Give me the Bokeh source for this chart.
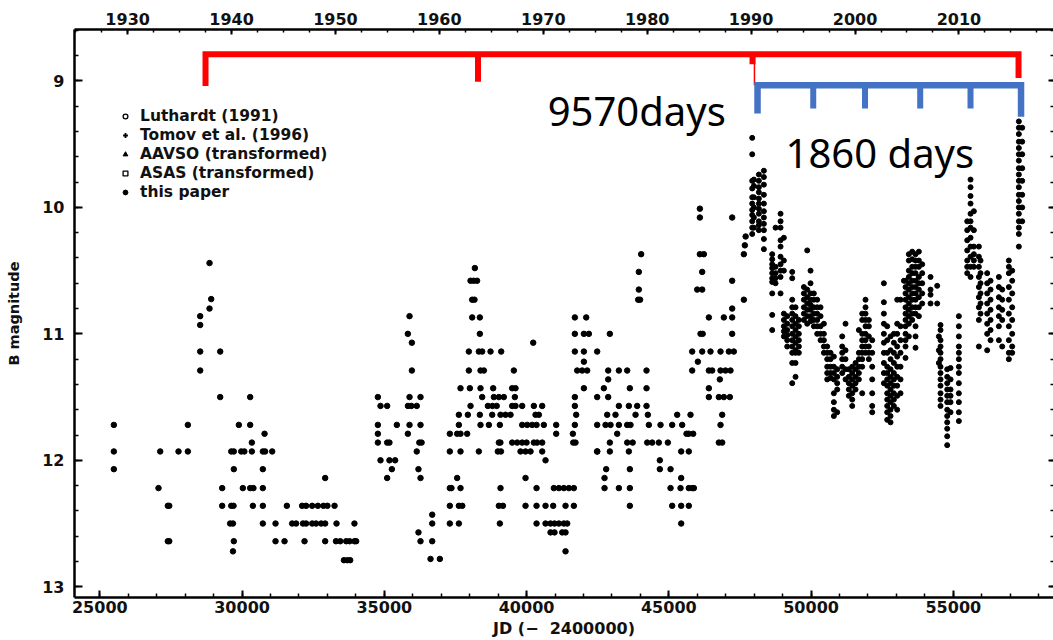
from bokeh.plotting import figure
from bokeh.models import (Range1d, LinearAxis, FixedTicker, Legend, LegendItem,
                          Label, CustomJSTickFormatter)
from bokeh.embed import file_html
from bokeh.resources import INLINE

# ---------------- data (JD - 2400000, B magnitude) ----------------
luthardt = [
    (25493, 11.72), (25493, 11.93), (25493, 12.07),
    (27063, 12.22), (27122, 11.93), (27390, 12.36), (27440, 12.36), (27390, 12.64), (27440, 12.64),
    (27766, 11.93), (28094, 11.72), (28094, 11.93),
    (28528, 10.86), (28528, 10.93), (28528, 11.14), (28528, 11.29),
    (28856, 10.44), (28856, 10.80), (28915, 10.725),
    (29231, 11.14), (29231, 11.50), (29301, 12.22), (29301, 12.36),
    (29620, 11.93), (29710, 11.93), (29710, 12.07), (29620, 12.36), (29700, 12.36), (29580, 12.50),
    (29680, 12.50), (29710, 12.64), (29680, 12.72),
    (29887, 11.72), (29970, 11.93), (30080, 11.93), (30027, 12.22),
    (30285, 11.50), (30285, 11.72), (30344, 11.86), (30344, 11.93), (30285, 12.22), (30400, 12.22), (30380, 12.36),
    (30790, 11.79), (30730, 11.93), (30810, 11.93), (30730, 12.07), (30730, 12.22), (30730, 12.36), (30730, 12.50),
    (31059, 11.93), (31176, 12.50), (31176, 12.64), (31492, 12.64), (31574, 12.36),
    (31760, 12.50), (31900, 12.50), (32110, 12.36), (32250, 12.36), (32140, 12.50), (32250, 12.50), (32195, 12.64),
    (32464, 12.36), (32464, 12.50), (32664, 12.36), (32600, 12.50), (32780, 12.50),
    (32921, 12.14), (32860, 12.36), (33000, 12.36), (32921, 12.50), (32921, 12.64),
    (33250, 12.36), (33320, 12.50), (33300, 12.64), (33450, 12.64),
    (33660, 12.64), (33780, 12.64), (33580, 12.79), (33700, 12.79), (33800, 12.79),
    (33950, 12.50), (33950, 12.64), (34010, 12.64),
    (34773, 11.50), (34773, 11.72), (34773, 11.79), (34773, 11.86), (34866, 11.57), (34866, 12.00),
    (35100, 11.57), (35100, 11.86), (35180, 11.86), (35100, 12.14), (35180, 12.00), (35380, 12.00), (35265, 12.07),
    (35440, 11.72), (35827, 11.00), (35827, 11.79),
    (35886, 10.86), (35886, 11.50), (35830, 11.57), (35950, 11.57), (35886, 11.72),
    (35968, 11.07), (35968, 11.29), (36140, 11.57), (36140, 11.93), (36200, 12.07), (36200, 12.57),
    (36272, 11.50), (36272, 11.72), (36230, 11.86), (36310, 11.86), (36272, 12.14), (36272, 12.64),
    (36683, 12.43), (36683, 12.50), (36683, 12.64), (36624, 12.78), (36952, 12.78),
    (37303, 11.79), (37560, 11.79), (37678, 11.79), (37912, 11.79), (37303, 11.93), (37678, 11.93),
    (37303, 12.22), (37360, 12.22), (37678, 12.22), (37303, 12.36), (37620, 12.36), (37740, 12.36),
    (37303, 12.50), (37620, 12.50), (37560, 12.14), (37620, 11.64), (37620, 11.72),
    (37678, 11.43), (38007, 11.43), (37936, 11.64), (37971, 11.29), (37971, 11.14), (38030, 11.57),
    (38088, 10.87), (38358, 10.87), (38088, 10.73), (38170, 10.73), (38030, 10.58), (38140, 10.58),
    (38260, 10.58), (38182, 10.48),
    (38358, 11.00), (38322, 11.14), (38440, 11.14), (38381, 11.29), (38500, 11.29),
    (38381, 11.43), (38440, 11.50), (38358, 11.64), (38381, 11.72), (38675, 11.72), (38322, 11.93),
    (38733, 11.14), (38827, 11.43), (38850, 11.50), (39026, 11.50), (39200, 11.50),
    (38640, 11.57), (38800, 11.57), (38950, 11.57),
    (38792, 11.64), (39084, 11.64), (39260, 11.64), (39436, 11.64),
    (39026, 11.86), (39080, 11.86), (38990, 11.93), (39100, 11.93), (39061, 11.72),
    (39084, 12.22), (39026, 12.36), (39170, 12.36), (39061, 12.50), (39108, 11.14),
    (39553, 11.29), (39494, 11.43), (39611, 11.43), (39588, 11.50),
    (39494, 11.57), (39611, 11.57), (39846, 11.57), (39846, 11.72), (40022, 11.72),
    (39494, 11.86), (39670, 11.86), (39846, 11.86), (40000, 11.86),
    (39787, 11.93), (39963, 11.93), (40139, 11.93), (39963, 12.14), (40233, 11.07),
    (40256, 11.57), (40549, 11.57), (40315, 11.64), (40432, 11.64),
    (40197, 11.72), (40350, 11.72), (40607, 11.72),
    (40256, 11.86), (40370, 11.86), (40549, 11.86), (40549, 11.93), (40666, 12.00),
    (39963, 12.36), (40350, 12.36), (40666, 12.36), (40935, 12.36), (41369, 12.36), (41662, 12.36),
    (40350, 12.22), (40959, 12.22), (41135, 12.22), (41310, 12.22), (41486, 12.22), (41662, 12.22),
    (40350, 12.50), (40666, 12.50), (40842, 12.50), (40982, 12.50), (41135, 12.50), (41310, 12.50), (41428, 12.50),
    (40842, 12.57), (40982, 12.57), (41252, 12.57), (41369, 12.57), (41369, 12.72),
    (41041, 11.72), (41041, 11.79),
    (41697, 10.87), (42096, 10.87), (41697, 11.00), (42015, 11.00), (42190, 11.00),
    (41697, 11.14), (42015, 11.14), (42482, 11.14), (42015, 11.22),
    (41779, 11.29), (41955, 11.29), (42130, 11.29),
    (42015, 11.43), (41697, 11.50), (41697, 11.57), (41744, 11.64), (41697, 11.72), (41627, 11.79),
    (41640, 11.86), (41720, 11.86), (42482, 11.72), (42482, 11.93),
    (42869, 11.29), (42869, 11.36), (42716, 11.43), (42482, 11.50), (42869, 11.50),
    (42834, 11.64), (43126, 11.64),
    (42775, 11.72), (42951, 11.72), (43244, 11.72), (43537, 11.72), (43654, 11.72),
    (42927, 11.86), (42482, 11.93), (42927, 11.93), (42798, 12.07), (42740, 12.14),
    (42740, 12.22), (43244, 12.22), (43630, 12.22), (42927, 11.00),
    (43244, 11.29), (43537, 11.29), (43244, 11.57), (43595, 11.57), (43888, 11.57),
    (43185, 11.79), (43537, 11.86), (43730, 11.86), (43595, 11.93), (43630, 12.07), (43630, 12.36),
    (44028, 10.37), (43946, 10.51), (43946, 10.65), (43923, 10.73), (43990, 10.73),
    (43830, 11.64), (44263, 11.64), (43630, 11.43), (44216, 11.43), (44216, 11.29), (44216, 11.57),
    (44298, 11.72), (44708, 11.72), (45118, 11.72), (45470, 11.72),
    (44240, 11.86), (44415, 11.86), (44649, 11.86), (44966, 11.86),
    (44684, 12.00), (44684, 12.07), (45060, 12.07),
    (45060, 12.22), (45411, 12.22), (45703, 12.22), (45820, 12.22), (45880, 12.22),
    (45118, 12.36), (45434, 12.36), (45703, 12.36),
    (45434, 12.50), (45434, 12.14), (45434, 11.93), (45703, 11.93),
    (45622, 11.79), (45700, 11.79), (45856, 11.79), (45294, 11.64), (45762, 11.64),
    (45821, 11.14), (46173, 11.14), (46465, 11.14), (46817, 11.14), (47110, 11.14), (47285, 11.14),
    (46020, 11.22),
    (45821, 11.29), (46407, 11.29), (46524, 11.29), (46817, 11.29), (46992, 11.29), (47168, 11.29),
    (46793, 11.36), (46407, 11.43),
    (46407, 11.50), (46758, 11.50), (46934, 11.50), (47145, 11.50),
    (46876, 11.64), (46817, 11.72), (46758, 11.86), (46876, 11.86),
    (46091, 10.01), (46091, 10.08), (46091, 10.37), (46231, 10.37), (46173, 10.51),
    (45997, 10.65), (46173, 10.65), (46114, 11.00), (46190, 11.00),
    (46407, 10.87), (46934, 10.87), (47227, 10.87),
    (47227, 10.08), (47227, 10.58), (47227, 10.80), (47227, 11.00),
    (47637, 10.37), (47672, 10.30), (47700, 10.23), (47637, 10.73),
]

tomov_cols = [
    (47931, [9.45, 9.58, 9.79, 9.85, 9.92, 9.97, 10.02, 10.06, 10.11, 10.16, 10.21]),
    (47990, [9.78, 9.83, 9.92, 10.00, 10.08, 10.16]),
    (48165, [9.74, 9.79, 9.84, 9.88, 9.93, 9.97, 10.01, 10.05, 10.11, 10.14, 10.18]),
    (48341, [9.71, 9.76, 9.82, 9.90, 9.97, 10.03, 10.08, 10.13, 10.18, 10.25, 10.33]),
]

aavso_cols = [
    (48634, [10.37, 10.41, 10.45, 10.48, 10.52, 10.56, 10.59, 10.68, 10.85, 10.97]),
    (48751, [10.16, 10.47, 10.52, 10.56, 10.60]),
    (48927, [10.05, 10.11, 10.16, 10.26, 10.31, 10.39, 10.45, 10.50, 10.55, 10.68]),
    (49044, [10.24, 10.42, 10.50, 10.84, 10.89, 10.94, 10.98, 11.02]),
    (49161, [10.86, 10.92, 10.97, 11.01, 11.05, 11.10]),
    (49337, [10.51, 10.56, 10.73, 10.79, 10.84, 10.89, 10.94, 11.00, 11.05, 11.10, 11.15, 11.23, 11.39]),
    (49454, [10.79, 10.86, 10.92, 10.97, 11.02, 11.07, 11.13, 11.15, 11.23, 11.34]),
    (49571, [10.89, 10.94, 11.00, 11.05, 11.10, 11.15]),
    (49747, [10.63, 10.68, 10.73, 10.79, 10.84, 10.89]),
    (49864, [10.34, 10.65, 10.71, 10.76, 10.81, 10.86, 10.92]),
    (49981, [10.50, 10.60, 10.68, 10.73, 10.77, 10.81, 10.86, 10.90]),
    (50098, [10.68, 10.73, 10.79, 10.84, 10.89, 10.94]),
    (50215, [10.73, 10.79, 10.84, 10.89, 10.94, 11.00]),
    (50333, [10.79, 10.86, 10.94, 11.00, 11.05]),
    (50450, [10.92, 11.00, 11.05, 11.10, 11.15]),
    (50567, [11.10, 11.15, 11.20, 11.26, 11.31, 11.36]),
    (50684, [11.15, 11.20, 11.26, 11.31, 11.35]),
    (50801, [11.18, 11.26, 11.31, 11.36, 11.47, 11.54, 11.60, 11.65]),
    (50918, [11.28, 11.34, 11.39, 11.44, 11.62]),
    (51094, [11.02, 11.10, 11.15, 11.20, 11.26, 11.31]),
    (51211, [10.92, 11.13, 11.20, 11.28, 11.36]),
    (51328, [11.28, 11.34, 11.39, 11.44, 11.49]),
    (51446, [11.26, 11.31, 11.36, 11.41, 11.47, 11.52, 11.57]),
    (51563, [11.23, 11.28, 11.34, 11.39, 11.44]),
    (51680, [10.97, 11.15, 11.20, 11.26, 11.31, 11.36]),
    (51797, [10.84, 10.89, 11.00, 11.05, 11.10, 11.15, 11.20, 11.26, 11.47]),
    (51914, [10.73, 10.79, 10.84, 10.89, 10.94, 11.00, 11.05, 11.10, 11.15]),
    (55195, [10.86, 10.94, 11.02, 11.10, 11.15, 11.20, 11.26, 11.31, 11.39, 11.47, 11.54, 11.62, 11.69]),
    (55488, [10.11, 10.18, 10.26, 10.34, 10.42, 10.47, 10.52]),
    (55605, [9.78, 9.84, 9.91, 9.97, 10.05, 10.11, 10.16, 10.24, 10.31, 10.39, 10.47, 10.55]),
    (55722, [10.03, 10.18, 10.31, 10.37, 10.42, 10.47]),
    (55898, [10.31, 10.39, 10.47, 10.55, 10.63, 10.71, 10.79, 10.89, 11.10]),
    (55956, [10.42, 10.52, 10.60, 10.68, 10.76, 10.84]),
    (56190, [10.52, 10.60, 10.68, 10.76, 10.84, 10.92, 11.00, 11.13]),
    (56308, [10.58, 10.65, 10.73, 10.81, 10.89, 10.97, 11.05]),
    (56601, [10.55, 10.63, 10.71, 10.79, 10.86, 10.94, 11.05]),
    (56718, [10.65, 10.73, 10.81, 10.89, 11.10]),
    (56952, [10.42, 10.47, 10.52, 10.63, 10.73, 10.84, 10.94, 11.05, 11.15, 11.20]),
    (57069, [10.50, 10.58, 10.68, 10.79, 10.89, 11.00, 11.10, 11.15]),
]

asas_cols = [
    (52031, [10.89, 10.94, 11.02, 11.10, 11.15, 11.20]),
    (52149, [11.05, 11.15, 11.26, 11.36, 11.47, 11.57, 11.62]),
    (52559, [10.60, 10.75, 10.84, 10.92, 11.00, 11.07, 11.15, 11.23, 11.31, 11.39]),
    (52676, [10.94, 11.05, 11.15, 11.26, 11.31, 11.36, 11.41, 11.47, 11.52, 11.57, 11.62, 11.68]),
    (52793, [11.02, 11.13, 11.20, 11.28, 11.34, 11.39, 11.44, 11.49, 11.54, 11.60, 11.65, 11.70]),
    (52910, [11.00, 11.07, 11.15, 11.23, 11.31, 11.36, 11.41, 11.47, 11.52, 11.57]),
    (53027, [10.73, 10.92, 11.00, 11.10, 11.18, 11.26, 11.34, 11.41, 11.49, 11.60]),
    (53144, [10.73, 10.94, 11.05, 11.15, 11.26, 11.36, 11.47]),
    (53262, [10.58]),
    (53320, [10.58, 10.63, 10.68, 10.73, 10.79, 10.84, 10.89, 10.94, 11.00, 11.05, 11.10, 11.19]),
    (53437, [10.37, 10.42, 10.50, 10.55, 10.60, 10.65, 10.71, 10.76, 10.81, 10.86, 10.92, 11.02]),
    (53555, [10.35, 10.41, 10.47, 10.52, 10.58, 10.63, 10.68, 10.73, 10.79, 10.84, 10.89]),
    (53672, [10.37, 10.42, 10.47, 10.52, 10.58, 10.63, 10.68, 10.73, 10.79, 10.84, 10.94, 11.02, 11.11]),
    (53789, [10.35, 10.42, 10.47, 10.55, 10.60, 10.65, 10.71, 10.79, 10.86]),
    (53906, [10.45, 10.52, 10.60, 10.68, 10.76]),
    (54199, [10.55, 10.65, 10.69, 10.76]),
    (54433, [10.62, 10.76]),
    (54492, [11.02, 11.13, 11.23]),
    (54550, [10.93, 10.97, 11.05, 11.10, 11.15, 11.20, 11.26, 11.31, 11.36, 11.41, 11.47, 11.52, 11.57]),
    (54785, [11.28, 11.34, 11.39, 11.44, 11.49, 11.54, 11.60, 11.65, 11.70, 11.75, 11.81, 11.88]),
    (54902, [11.27, 11.36, 11.44, 11.49, 11.54, 11.62]),
]

paper_cols = [
    (57303, [9.32, 9.37, 9.42, 9.48, 9.53, 9.58, 9.63, 9.69, 9.74, 9.79, 9.84, 9.90, 9.95,
             10.00, 10.05, 10.11, 10.16, 10.21, 10.31]),
    (57421, [9.37, 9.48, 9.58, 9.69, 9.79, 9.90, 10.00, 10.11]),
]

series_labels = ["Luthardt (1991)", "Tomov et al. (1996)", "AAVSO (transformed)",
                 "ASAS (transformed)", "this paper"]

jd_major = [25000, 30000, 35000, 40000, 45000, 50000, 55000]
year_major = [1930, 1940, 1950, 1960, 1970, 1980, 1990, 2000, 2010]
mag_major = [9, 10, 11, 12, 13]

# hand-drawn period brackets (JD of ticks)
red_bracket_jd = [28715, 38293, 47942, 57292]
blue_bracket_jd = [48118, 50076, 51896, 53836, 55604, 57380]
red_label = "9570days"
blue_label = "1860 days"

# ---------------- helpers ----------------
def flatten(cols):
    xs, ys = [], []
    for jd, mags in cols:
        for m in mags:
            xs.append(jd)
            ys.append(m)
    return xs, ys


def jd_to_year(jd):
    return 1930 + (jd - 25977.5) / 365.25


X0, X1 = 24110, 58521
Y_BOT, Y_TOP = 13.085, 8.593

p = figure(width=1053, height=640, x_range=Range1d(X0, X1), y_range=Range1d(Y_BOT, Y_TOP),
           output_backend="svg", toolbar_location=None,
           min_border_left=74, min_border_right=0, min_border_top=29, min_border_bottom=41,
           x_axis_label="JD (\u2212\u00a0\u00a02400000)", y_axis_label="B magnitude")
p.grid.visible = False
p.outline_line_color = None
p.background_fill_color = "white"
p.border_fill_color = "white"

FONT = "DejaVu Sans"


def style_axis(ax, major, minor, tick_in, minor_in, standoff):
    ax.ticker = FixedTicker(ticks=major, minor_ticks=minor)
    ax.axis_line_width = 2.5
    ax.axis_line_color = "black"
    ax.major_tick_in = tick_in
    ax.major_tick_out = 0
    ax.minor_tick_in = minor_in
    ax.minor_tick_out = 0
    ax.major_tick_line_width = 2
    ax.minor_tick_line_width = 1.5
    ax.major_tick_line_color = "black"
    ax.minor_tick_line_color = "black"
    ax.major_label_text_font = FONT
    ax.major_label_text_font_style = "bold"
    ax.major_label_text_font_size = "16px"
    ax.major_label_text_color = "#111111"
    ax.major_label_standoff = standoff
    ax.axis_label_text_font = FONT
    ax.axis_label_text_font_style = "bold"
    ax.axis_label_text_color = "#111111"


jd_minor = list(range(24000, 59001, 1000))
mag_minor = [round(8.6 + 0.2 * i, 1) for i in range(23)]
year_minor = [1925 + 2.5 * i for i in range(40)]

xb = p.xaxis[0]
style_axis(xb, jd_major, jd_minor, 7, 4, 3)
xb.axis_label_text_font_size = "16px"
xb.axis_label_standoff = 3

yl = p.yaxis[0]
style_axis(yl, mag_major, mag_minor, 8, 4, 10)
yl.axis_label_text_font_size = "14.5px"
yl.axis_label_standoff = 17

p.extra_x_ranges = {"yr": Range1d(jd_to_year(X0), jd_to_year(X1))}
top = LinearAxis(x_range_name="yr")
style_axis(top, year_major, year_minor, 5, 3, 5)
p.add_layout(top, "above")

right = LinearAxis()
style_axis(right, mag_major, mag_minor, 5, 3, 0)
right.formatter = CustomJSTickFormatter(code="return ''")
right.axis_line_color = None
p.add_layout(right, "right")

# ---------------- data points ----------------
lx = [a for a, b in luthardt]
ly = [b for a, b in luthardt]
p.scatter(lx, ly, size=5.5, marker="circle", fill_color="black", line_color="black")
for cols in (tomov_cols, aavso_cols, asas_cols, paper_cols):
    xs, ys = flatten(cols)
    p.scatter(xs, ys, size=5, marker="circle", fill_color="black", line_color="black")

# legend-only renderers (symbols of the original legend); NaN data so nothing is plotted
NAN = float("nan")
leg_styles = [
    dict(marker="circle", fill_color="white", line_color="black", line_width=1.3),
    dict(marker="cross", line_color="black", line_width=1.8),
    dict(marker="triangle", fill_color="black", line_color="black"),
    dict(marker="square", fill_color="white", line_color="black", line_width=1.3),
    dict(marker="circle", fill_color="black", line_color="black"),
]
items = []
for lab, st in zip(series_labels, leg_styles):
    r = p.scatter(x=[NAN], y=[NAN], size=5, **st)
    items.append(LegendItem(label=lab, renderers=[r], index=0))
legend = Legend(items=items, location=(45, 396), padding=0, margin=0, spacing=0,
                label_height=19, glyph_height=12, glyph_width=12, label_standoff=9,
                border_line_color=None, background_fill_alpha=0,
                label_text_font=FONT, label_text_font_style="bold",
                label_text_font_size="15.5px", label_text_color="#111111")
p.add_layout(legend, "center")

# ---------------- period brackets ----------------
RED = "#FF0000"
BLUE = "#4472C4"
RED_Y = 8.788
BLUE_Y = 9.034
r0, r1, r2, r3 = red_bracket_jd
p.line([r0, r0, r3, r3], [9.039, RED_Y, RED_Y, 8.976], line_color=RED, line_width=6,
       line_join="miter")
p.segment(x0=[r1, r2], y0=[RED_Y, RED_Y], x1=[r1, r2], y1=[9.007, 8.868],
          line_color=RED, line_width=6)
p.segment(x0=[48010], y0=[RED_Y], x1=[48010], y1=[BLUE_Y], line_color=RED, line_width=1.5)

b = blue_bracket_jd
p.line([b[0], b[0], b[-1], b[-1]], [9.257, BLUE_Y, BLUE_Y, 9.284], line_color=BLUE,
       line_width=6.5, line_join="miter")
p.segment(x0=b[1:-1], y0=[BLUE_Y] * 4, x1=b[1:-1], y1=[9.217] * 4,
          line_color=BLUE, line_width=6)

p.add_layout(Label(x=40743, y=9.230, text=red_label, text_font="Noto Sans",
                   text_font_size="40px", text_color="black", text_baseline="alphabetic"))
p.add_layout(Label(x=49105, y=9.565, text=blue_label, text_font="Noto Sans",
                   text_font_size="40px", text_color="black", text_baseline="alphabetic"))

open("out.html", "w").write(file_html(p, INLINE))
